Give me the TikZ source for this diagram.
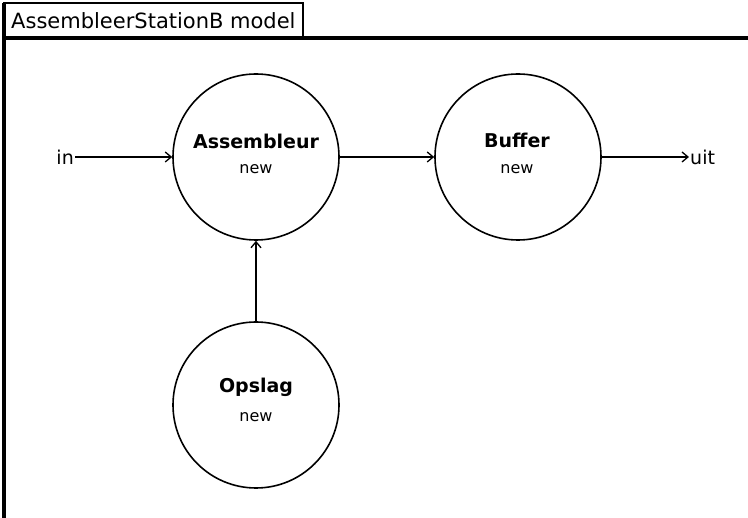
\documentclass[tikz,border=0pt]{standalone}
\usepackage{fontspec}
\setmainfont{DejaVu Sans}
\usetikzlibrary{arrows.meta}
\begin{document}
\begin{tikzpicture}[x=1pt,y=-1pt,
  proc/.style={draw,circle,line width=1.6pt,minimum size=166pt,inner sep=0pt},
  conn/.style={line width=1.6pt,-{Straight Barb[length=6pt,width=10pt,line width=1.3pt]}},
  lbl/.style={inner sep=1pt,font=\fontsize{19}{21}\selectfont},
  namefont/.style={font=\bfseries\fontsize{19}{22}\selectfont},
  newfont/.style={font=\fontsize{16}{18}\selectfont},
  frame/.style={line width=3.2pt}]
\useasboundingbox (0,0) rectangle (748,518);
\fill[white] (0,0) rectangle (748,518);
% frame and tab
\draw[line width=2.4pt] (4,3) rectangle (303,38);
\draw[frame] (3,38) -- (748,38);
\draw[frame] (4,3) -- (4,518);
\node[anchor=west,inner sep=0pt,font=\fontsize{21}{24}\selectfont] (title) at (11,21) {AssembleerStationB model};
% processes
\node[proc] (A) at (256,157) {};
\node[proc] (B) at (518,157) {};
\node[proc] (O) at (256,405) {};
\node[namefont] (At) at (256,141) {Assembleur};
\node[newfont] (An) at (256,169) {new};
\node[namefont] (Bt) at (517,140) {Buffer};
\node[newfont] (Bn) at (517,169) {new};
\node[namefont] (Ot) at (256,387) {Opslag};
\node[newfont] (On) at (256,417) {new};
% ports
\node[lbl,anchor=east] (in) at (75,157) {in};
\node[lbl,anchor=west] (uit) at (689,157) {uit};
% connectors
\draw[conn] (in.east) -- (A.west);
\draw[conn] (A.east) -- (B.west);
\draw[conn] (B.east) -- (uit.west);
\draw[conn] (O.north) -- (A.south);
\end{tikzpicture}
\end{document}
